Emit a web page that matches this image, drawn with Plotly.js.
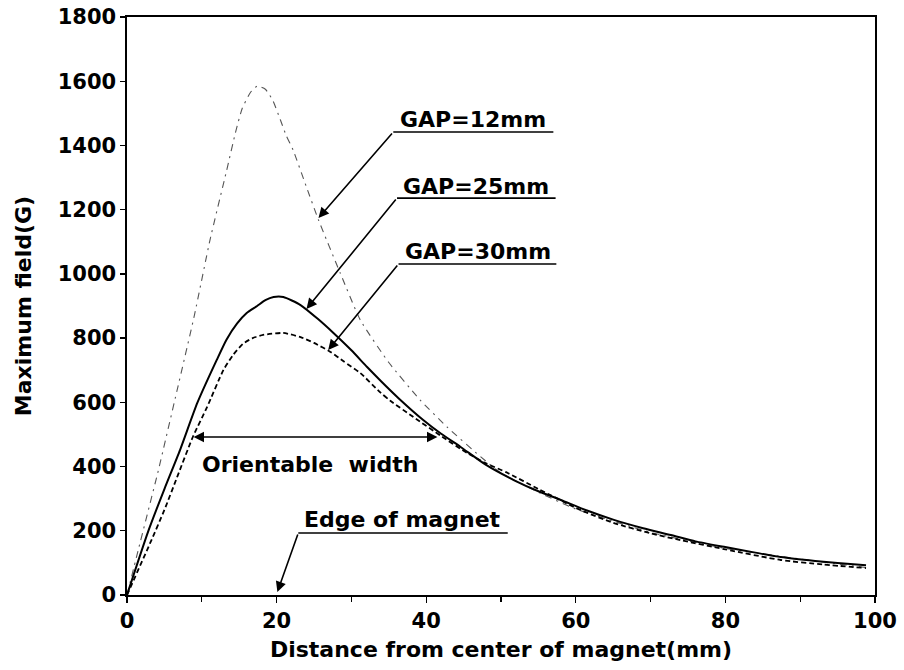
<!DOCTYPE html>
<html>
<head>
<meta charset="utf-8">
<script src="https://cdn.plot.ly/plotly-3.0.1.min.js"></script>
<style>
html,body{margin:0;padding:0;background:#fff;}
#chart{width:904px;height:670px;}
</style>
</head>
<body>
<div id="chart"></div>
<script>
// ---- data ----
const gap12X = [0, 1.5, 4.2, 6.7, 9, 11.1, 13.3, 14.5, 15.4, 16.5, 17.4, 18.5, 19.5, 20.5, 21.3, 22.2, 24, 25.6, 28.5, 31.2, 35, 39.2, 42.8, 47.3, 50, 55, 60, 70, 80, 90, 99];
const gap12Y = [0, 140, 389, 638, 870, 1106, 1320, 1440, 1515, 1565, 1585, 1575, 1540, 1480, 1430, 1386, 1270, 1168, 1003, 856, 724, 607, 523, 430, 380, 320, 268, 195, 145, 112, 85];

const gap25X = [0, 2.8, 5, 7.1, 9.4, 12, 13.3, 14.7, 16, 17.4, 18.5, 19.6, 20.9, 23.2, 25.5, 27.6, 30, 32.1, 34, 36.3, 39.6, 42, 44.6, 48, 51.7, 55, 58, 61.5, 65.1, 69, 72.7, 76, 79.8, 84, 87.4, 92, 95, 98.8];
const gap25Y = [0, 196, 330, 452, 598, 732, 795, 845, 878, 900, 918, 928, 928, 903, 860, 816, 762, 710, 665, 613, 545, 502, 461, 405, 358, 323, 296, 263, 234, 208, 187, 167, 150, 132, 118, 106, 100, 93];

const gap30X = [0, 3.1, 5, 6.7, 8.8, 10.7, 12.9, 14.2, 15.5, 16.8, 18.2, 20.9, 23.2, 25, 27.2, 29, 31.2, 33.9, 35.2, 38.3, 42, 45.5, 48, 50.9, 55, 60.6, 65, 70, 74, 80, 87.4, 93, 98.8];
const gap30Y = [0, 162, 265, 367, 492, 585, 701, 748, 782, 800, 810, 816, 803, 785, 757, 727, 691, 630, 605, 554, 495, 442, 410, 380, 330, 265, 225, 192, 171, 142, 109, 95, 84];

const seriesNames = ["GAP=12mm", "GAP=25mm", "GAP=30mm"];
const xTickVals = [0, 20, 40, 60, 80, 100];
const yTickVals = [0, 200, 400, 600, 800, 1000, 1200, 1400, 1600, 1800];
const xTitle = "Distance from center of magnet(mm)";
const yTitle = "Maximum field(G)";
const orientLabel = "Orientable\u00a0\u00a0width";
const edgeLabel = "Edge of magnet";

const FONT = "DejaVu Sans, Liberation Sans, Arial, sans-serif";

const traces = [
  {x: gap12X, y: gap12Y, name: seriesNames[0], mode: "lines",
   line: {color: "#555", width: 1.1, dash: "7px,5px,2px,5px", shape: "spline", smoothing: 0.5}},
  {x: gap25X, y: gap25Y, name: seriesNames[1], mode: "lines",
   line: {color: "#000", width: 2, shape: "spline", smoothing: 0.6}},
  {x: gap30X, y: gap30Y, name: seriesNames[2], mode: "lines",
   line: {color: "#000", width: 1.8, dash: "5px,3px", shape: "spline", smoothing: 0.6}}
];

function arrow(tipX, tipY, tailX, tailY, extra) {
  return Object.assign({
    x: tipX, y: tipY, ax: tailX, ay: tailY, xref: "x", yref: "y", axref: "x", ayref: "y",
    text: "", showarrow: true, arrowhead: 2, arrowsize: 1.3, arrowwidth: 1.6, arrowcolor: "#000",
    standoff: 0, startstandoff: 0
  }, extra || {});
}
function label(txt, x, y) {
  return {x: x, y: y, xref: "x", yref: "y", text: txt, showarrow: false,
          xanchor: "center", yanchor: "middle",
          font: {family: FONT, size: 22, color: "#000", weight: "bold"}};
}

const annotations = [
  label(seriesNames[0], 46.3, 1480),
  label(seriesNames[1], 46.7, 1272),
  label(seriesNames[2], 46.9, 1069),
  arrow(25.6, 1174, 35.6, 1442),
  arrow(24.0, 891, 36.1, 1236),
  arrow(26.9, 763, 36.3, 1031),
  arrow(41.5, 492, 8.7, 492, {arrowside: "end+start"}),
  label(orientLabel, 24.5, 407),
  label(edgeLabel, 36.8, 236),
  arrow(20.1, 9, 22.9, 193)
];

const lineStyle = {color: "#000", width: 1.6};
const shapes = [
  {type: "line", xref: "x", yref: "y", x0: 35.6, x1: 57.0, y0: 1442, y1: 1442, line: lineStyle},
  {type: "line", xref: "x", yref: "y", x0: 36.1, x1: 57.3, y0: 1236, y1: 1236, line: lineStyle},
  {type: "line", xref: "x", yref: "y", x0: 36.3, x1: 57.4, y0: 1031, y1: 1031, line: lineStyle},
  {type: "line", xref: "x", yref: "y", x0: 22.9, x1: 50.9, y0: 193, y1: 193, line: lineStyle}
];

const tickFont = {family: FONT, size: 21, color: "#000", weight: "bold"};
const titleFont = {family: FONT, size: 22, color: "#000", weight: "bold"};

const layout = {
  width: 904, height: 670,
  margin: {l: 127, r: 29, t: 17, b: 75, pad: 0},
  paper_bgcolor: "#fff", plot_bgcolor: "#fff",
  showlegend: false,
  font: {family: FONT, color: "#000"},
  xaxis: {
    range: [0, 100], tickvals: xTickVals, ticks: "outside", ticklen: 6, tickwidth: 1.3, tickcolor: "#000",
    minor: {dtick: 10, tick0: 0, ticks: "outside", ticklen: 5, tickwidth: 1.2, tickcolor: "#000", showgrid: false},
    showline: true, linecolor: "#000", linewidth: 1.6, mirror: true,
    showgrid: false, zeroline: false, tickfont: tickFont,
    title: {text: xTitle, font: titleFont, standoff: 10}
  },
  yaxis: {
    range: [0, 1800], tickvals: yTickVals, ticks: "outside", ticklen: 5, tickwidth: 1.3, tickcolor: "#000",
    showline: true, linecolor: "#000", linewidth: 1.6, mirror: true,
    showgrid: false, zeroline: false, tickfont: tickFont,
    title: {text: yTitle, font: titleFont, standoff: 20}
  },
  annotations: annotations,
  shapes: shapes
};

Plotly.newPlot("chart", traces, layout, {displayModeBar: false, staticPlot: true});
</script>
</body>
</html>
